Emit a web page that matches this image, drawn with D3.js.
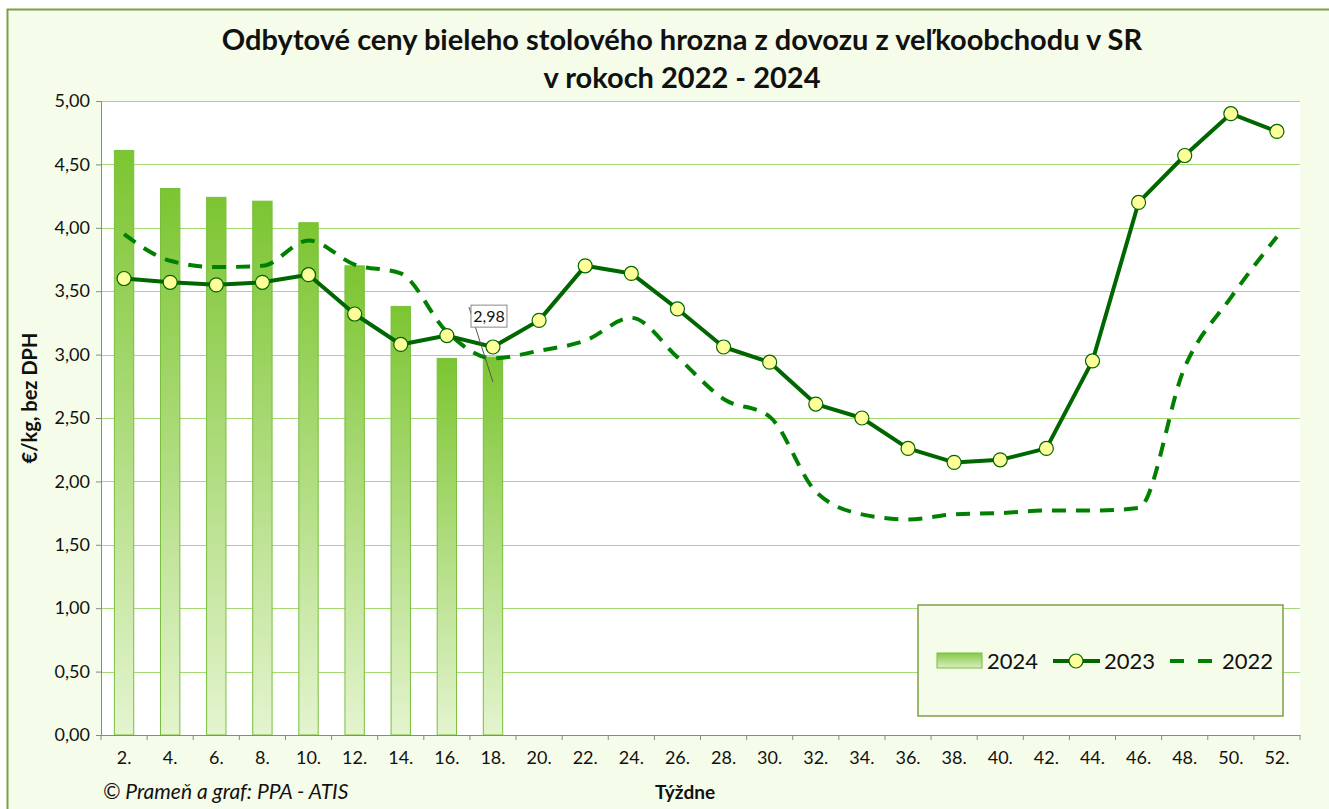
<!DOCTYPE html>
<html>
<head>
<meta charset="utf-8">
<script src="https://cdn.jsdelivr.net/npm/d3@7"></script>
<style>
  body { margin: 0; background: #fff; }
  svg text { font-family: Lato, "Open Sans", sans-serif; fill: #111; }
</style>
</head>
<body>
<div id="graf"></div>
<script>
// data
weeks = ['2.', '4.', '6.', '8.', '10.', '12.', '14.', '16.', '18.', '20.', '22.', '24.', '26.',
         '28.', '30.', '32.', '34.', '36.', '38.', '40.', '42.', '44.', '46.', '48.', '50.', '52.']
ceny2024 = [4.61, 4.31, 4.24, 4.21, 4.04, 3.70, 3.38, 2.97, 2.98]
ceny2023 = [3.60, 3.57, 3.55, 3.57, 3.63, 3.32, 3.08, 3.15, 3.06, 3.27, 3.70, 3.64, 3.36,
            3.06, 2.94, 2.61, 2.50, 2.26, 2.15, 2.17, 2.26, 2.95, 4.20, 4.57, 4.90, 4.76]
ceny2022 = [3.95, 3.74, 3.69, 3.70, 3.90, 3.71, 3.64, 3.18, 2.97, 3.03, 3.11, 3.29, 2.98,
            2.65, 2.51, 1.92, 1.74, 1.70, 1.74, 1.75, 1.77, 1.77, 1.79, 2.90, 3.45, 3.93]
yTicks = [0, 0.5, 1, 1.5, 2, 2.5, 3, 3.5, 4, 4.5, 5]
legendLabels = ['2024', '2023', '2022']

ancho_total = 1329
alto_total = 809
margins = { top: 101, left: 101, right: 29, bottom: 74 }
ancho = ancho_total - margins.left - margins.right
alto = alto_total - margins.top - margins.bottom

svg = d3.select('#graf').append('svg')
  .attr('width', ancho_total)
  .attr('height', alto_total)

defs = svg.append('defs')
grad = defs.append('linearGradient').attr('id', 'barGrad')
  .attr('x1', 0).attr('y1', 0).attr('x2', 0).attr('y2', 1)
grad.append('stop').attr('offset', '0%').attr('stop-color', '#7CC531')
grad.append('stop').attr('offset', '100%').attr('stop-color', '#E4F4CF')
grad2 = defs.append('linearGradient').attr('id', 'legGrad')
  .attr('x1', 0).attr('y1', 0).attr('x2', 0).attr('y2', 1)
grad2.append('stop').attr('offset', '0%').attr('stop-color', '#86C94A')
grad2.append('stop').attr('offset', '100%').attr('stop-color', '#D8EFBE')

// fondo
svg.append('rect')
  .attr('x', 7.5).attr('y', 9.5)
  .attr('width', ancho_total).attr('height', alto_total)
  .attr('fill', '#F5FCE9')
  .attr('stroke', '#7F9F45').attr('stroke-width', 2)

g = svg.append('g')
  .attr('transform', `translate(${margins.left}, ${margins.top})`)

g.append('rect').attr('width', ancho).attr('height', alto).attr('fill', '#fff')

// escalas
x = d3.scaleBand().domain(weeks).range([0, ancho])
y = d3.scaleLinear().domain([0, 5]).range([alto, 0])

// grid
g.selectAll('.grid').data(yTicks.slice(1)).enter().append('line')
  .attr('x1', 0).attr('x2', ancho)
  .attr('y1', d => Math.round(y(d)) + 0.5).attr('y2', d => Math.round(y(d)) + 0.5)
  .attr('stroke', '#A6D873').attr('stroke-width', 1.2)

// barras 2024
g.selectAll('.bar').data(ceny2024).enter().append('rect')
  .attr('x', (d, i) => x(weeks[i]) + x.bandwidth() * 0.29)
  .attr('y', d => y(d))
  .attr('width', x.bandwidth() * 0.42)
  .attr('height', d => alto - y(d))
  .attr('fill', 'url(#barGrad)')
  .attr('stroke', '#78BE3C').attr('stroke-width', 1)

// 2022 (linea suavizada discontinua)
line22 = d3.line()
  .x((d, i) => x(weeks[i]) + x.bandwidth() / 2)
  .y(d => y(d))
  .curve(d3.curveMonotoneX)
g.append('path').datum(ceny2022)
  .attr('d', line22)
  .attr('fill', 'none')
  .attr('stroke', '#008000').attr('stroke-width', 4)
  .attr('stroke-dasharray', '14,10')

// 2023
line23 = d3.line()
  .x((d, i) => x(weeks[i]) + x.bandwidth() / 2)
  .y(d => y(d))
g.append('path').datum(ceny2023)
  .attr('d', line23)
  .attr('fill', 'none')
  .attr('stroke', '#006600').attr('stroke-width', 4)
  .attr('stroke-linejoin', 'round')
g.selectAll('.pt').data(ceny2023).enter().append('circle')
  .attr('cx', (d, i) => x(weeks[i]) + x.bandwidth() / 2)
  .attr('cy', d => y(d))
  .attr('r', 7)
  .attr('fill', '#FFFF99')
  .attr('stroke', '#006600').attr('stroke-width', 1.2)

// etiqueta 2,98
lastI = ceny2024.length - 1
bx = x(weeks[lastI]) + x.bandwidth() / 2
by = y(ceny2024[lastI])
g.append('line')
  .attr('x1', bx - 24).attr('y1', by - 50)
  .attr('x2', bx).attr('y2', by + 25)
  .attr('stroke', '#555').attr('stroke-width', 1)
lab = g.append('g').attr('transform', `translate(${bx - 22}, ${by - 52})`)
lab.append('rect').attr('x', 0).attr('y', 0).attr('width', 36).attr('height', 22)
  .attr('fill', '#fff').attr('stroke', '#888')
lab.append('text').attr('x', 18).attr('y', 16.5).attr('text-anchor', 'middle')
  .style('font-size', '16px').text('2,98')

// ejes
yAxisCall = d3.axisLeft(y).tickValues(yTicks).tickSize(5)
  .tickFormat(d => d3.format('.2f')(d).replace('.', ','))
yAxisGroup = g.append('g').call(yAxisCall)
yAxisGroup.select('.domain').attr('stroke', '#888')
yAxisGroup.selectAll('.tick line').attr('stroke', '#888')
yAxisGroup.selectAll('text').style('font-size', '18px').attr('x', -11)

xAxisCall = d3.axisBottom(x).tickSize(0).tickPadding(16)
xAxisGroup = g.append('g').attr('transform', `translate(0, ${alto})`).call(xAxisCall)
xAxisGroup.select('.domain').attr('stroke', '#888')
xAxisGroup.selectAll('text').style('font-size', '18px')
xAxisGroup.selectAll('.sep').data(weeks.concat(['end'])).enter().append('line')
  .attr('x1', (d, i) => i * x.step()).attr('x2', (d, i) => i * x.step())
  .attr('y1', 0).attr('y2', 5).attr('stroke', '#888')

// titulos
svg.append('text').attr('x', 682).attr('y', 50).attr('text-anchor', 'middle')
  .style('font-size', '29px').style('font-weight', 'bold')
  .text('Odbytové ceny bieleho stolového hrozna z dovozu z veľkoobchodu v SR')
svg.append('text').attr('x', 682).attr('y', 88).attr('text-anchor', 'middle')
  .style('font-size', '29px').style('font-weight', 'bold')
  .text('v rokoch 2022 - 2024')
svg.append('text').attr('transform', 'translate(37, 398) rotate(-90)')
  .attr('text-anchor', 'middle')
  .style('font-size', '20px').style('font-weight', 'bold')
  .text('€/kg, bez DPH')
svg.append('text').attr('x', 685).attr('y', 799).attr('text-anchor', 'middle')
  .style('font-size', '19px').style('font-weight', 'bold')
  .text('Týždne')
svg.append('text').attr('x', 103).attr('y', 799)
  .style('font-size', '21px').style('font-style', 'italic')
  .text('© Prameň a graf: PPA - ATIS')

// leyenda
leg = svg.append('g').attr('transform', 'translate(918, 605)')
leg.append('rect').attr('width', 365).attr('height', 111)
  .attr('fill', '#F5FCE9').attr('stroke', '#7F9F45').attr('stroke-width', 1.5)
leg.append('rect').attr('x', 19).attr('y', 48).attr('width', 45).attr('height', 15)
  .attr('fill', 'url(#legGrad)').attr('stroke', '#78BE3C')
leg.append('line').attr('x1', 135).attr('x2', 182).attr('y1', 56).attr('y2', 56)
  .attr('stroke', '#006600').attr('stroke-width', 4)
leg.append('circle').attr('cx', 158).attr('cy', 56).attr('r', 7)
  .attr('fill', '#FFFF99').attr('stroke', '#006600').attr('stroke-width', 1.2)
leg.append('line').attr('x1', 252).attr('x2', 296).attr('y1', 56).attr('y2', 56)
  .attr('stroke', '#008000').attr('stroke-width', 4).attr('stroke-dasharray', '14,14')
leg.selectAll('.lt').data(legendLabels).enter().append('text')
  .attr('x', (d, i) => [69, 186, 304][i]).attr('y', 64)
  .style('font-size', '22px')
  .text(d => d)
</script>
</body>
</html>
